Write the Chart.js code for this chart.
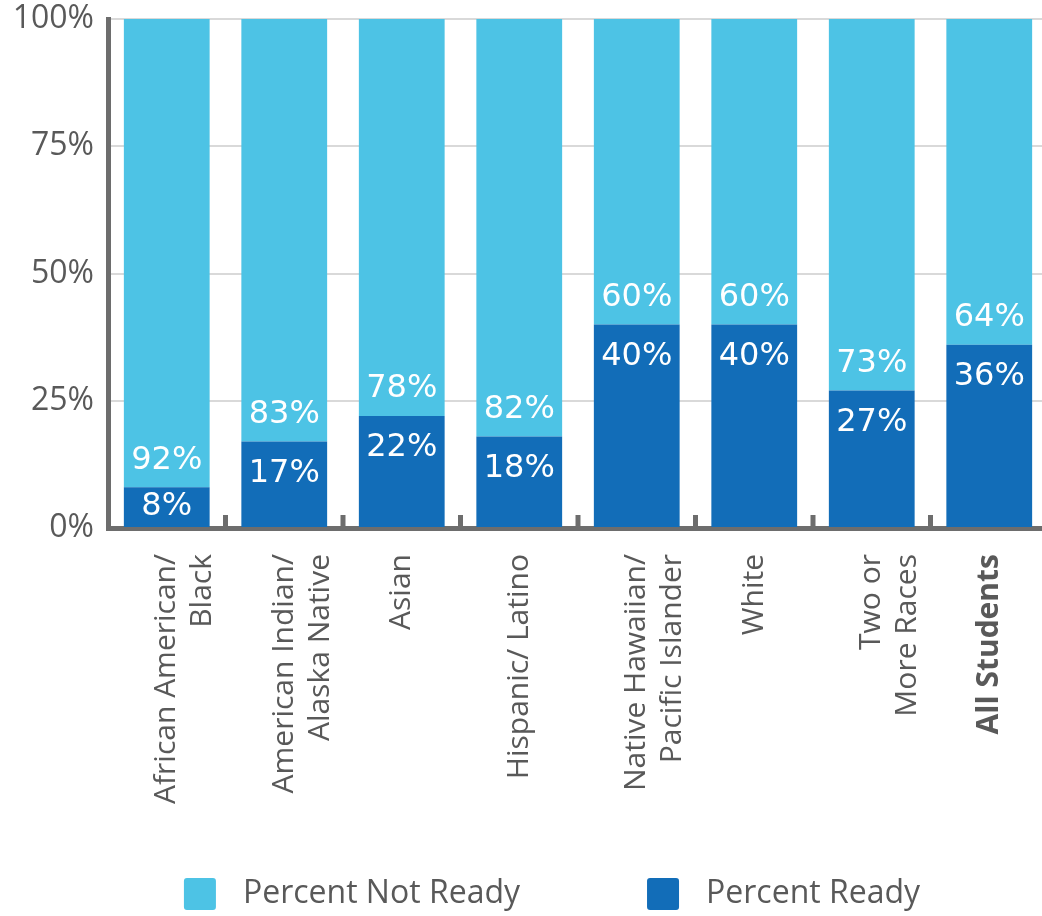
<!DOCTYPE html>
<html>
<head>
<meta charset="utf-8">
<script src="https://cdn.jsdelivr.net/npm/chart.js@4/dist/chart.umd.min.js"></script>
<style>
  html, body { margin: 0; padding: 0; background: #fff; overflow: hidden; }
  canvas { display: block; }
</style>
</head>
<body>
<canvas id="chart" width="1048" height="916"></canvas>
<script>
const categories = [
	["African American/", "Black"],
	["American Indian/", "Alaska Native"],
	"Asian",
	"Hispanic/ Latino",
	["Native Hawaiian/", "Pacific Islander"],
	"White",
	["Two or", "More Races"],
	"All Students",
];
const percentReady = [8, 17, 22, 18, 40, 40, 27, 36];
const percentNotReady = [92, 83, 78, 82, 60, 60, 73, 64];
const yTicks = [0, 25, 50, 75, 100];

const LIGHT = "#4DC3E5";
const DARK = "#126DB8";
const GREY = "#595959";
const AXIS = "#6d6d6d";

// white % labels inside the stacked bars
const valueLabels = {
	id: "valueLabels",
	afterDatasetsDraw(chart) {
		const ctx = chart.ctx;
		const ready = chart.getDatasetMeta(0).data;
		ctx.save();
		ctx.fillStyle = "#fff";
		ctx.font = "32px 'DejaVu Sans'";
		ctx.textAlign = "center";
		ctx.textBaseline = "middle";
		ready.forEach((bar, i) => {
			const yReady = Math.min(bar.y + 32, (bar.y + bar.base) / 2);
			ctx.fillText(percentReady[i] + "%", bar.x, yReady);
			ctx.fillText(percentNotReady[i] + "%", bar.x, bar.y - 27);
		});
		ctx.restore();
	},
};

// small upward ticks on the x axis between categories
const catTicks = {
	id: "catTicks",
	afterDraw(chart) {
		const x = chart.scales.x;
		const bottom = chart.chartArea.bottom;
		const ctx = chart.ctx;
		ctx.save();
		ctx.strokeStyle = AXIS;
		ctx.lineWidth = 5;
		for (let i = 1; i < categories.length; i++) {
			const px = (x.getPixelForValue(i - 1) + x.getPixelForValue(i)) / 2;
			ctx.beginPath();
			ctx.moveTo(px, bottom);
			ctx.lineTo(px, bottom - 13);
			ctx.stroke();
		}
		ctx.restore();
	},
};

// legend row at the bottom, "Not Ready" first
const bottomLegend = {
	id: "bottomLegend",
	afterDraw(chart) {
		const ctx = chart.ctx;
		const items = chart.data.datasets.slice().reverse();
		const box = 32, gap = 27, between = 127, cy = 894;
		ctx.save();
		ctx.font = "32px 'Open Sans'";
		ctx.textBaseline = "middle";
		const widths = items.map((d) => box + gap + ctx.measureText(d.label).width);
		const total = widths.reduce((a, b) => a + b, 0) + between * (items.length - 1);
		let x = chart.width / 2 + 28 - total / 2;
		items.forEach((d, i) => {
			ctx.fillStyle = d.backgroundColor;
			ctx.beginPath();
			ctx.roundRect(x, cy - box / 2, box, box, 3);
			ctx.fill();
			ctx.fillStyle = GREY;
			ctx.fillText(d.label, x + box + gap, cy);
			x += widths[i] + between;
		});
		ctx.restore();
	},
};

const data = {
	labels: categories,
	datasets: [
		{
			label: "Percent Ready",
			data: percentReady,
			backgroundColor: DARK,
			barPercentage: 0.73,
			categoryPercentage: 1,
		},
		{
			label: "Percent Not Ready",
			data: percentNotReady,
			backgroundColor: LIGHT,
			barPercentage: 0.73,
			categoryPercentage: 1,
		},
	],
};

const options = {
	responsive: false,
	animation: false,
	layout: {
		padding: { top: 19, left: 0, right: 0, bottom: 98 },
	},
	plugins: {
		tooltip: { enabled: false },
		legend: { display: false },
	},
	scales: {
		x: {
			stacked: true,
			offset: true,
			z: 1,
			grid: { display: false },
			border: { display: true, color: AXIS, width: 5 },
			ticks: {
				minRotation: 90,
				maxRotation: 90,
				autoSkip: false,
				padding: 18,
				color: GREY,
				font: (ctx) => ({
					family: "'Open Sans'",
					size: 30,
					lineHeight: 1.2,
					weight: ctx.index === categories.length - 1 ? "bold" : "normal",
				}),
			},
			afterFit: (scale) => {
				scale.height = 290;
			},
		},
		y: {
			stacked: true,
			min: 0,
			max: 100,
			grid: { color: "#d9d9d9", lineWidth: 2, drawTicks: false },
			border: { display: true, color: AXIS, width: 5 },
			afterBuildTicks: (scale) => {
				scale.ticks = yTicks.map((v) => ({ value: v }));
			},
			ticks: {
				padding: 14,
				color: GREY,
				font: { family: "'Open Sans'", size: 32 },
				callback: (v) => v + "%",
			},
			afterFit: (scale) => {
				scale.width = 108;
				scale.paddingTop = 0;
				scale.paddingBottom = 0;
			},
		},
	},
};

new Chart(document.getElementById("chart").getContext("2d"), {
	type: "bar",
	data,
	options,
	plugins: [valueLabels, catTicks, bottomLegend],
});
</script>
</body>
</html>
